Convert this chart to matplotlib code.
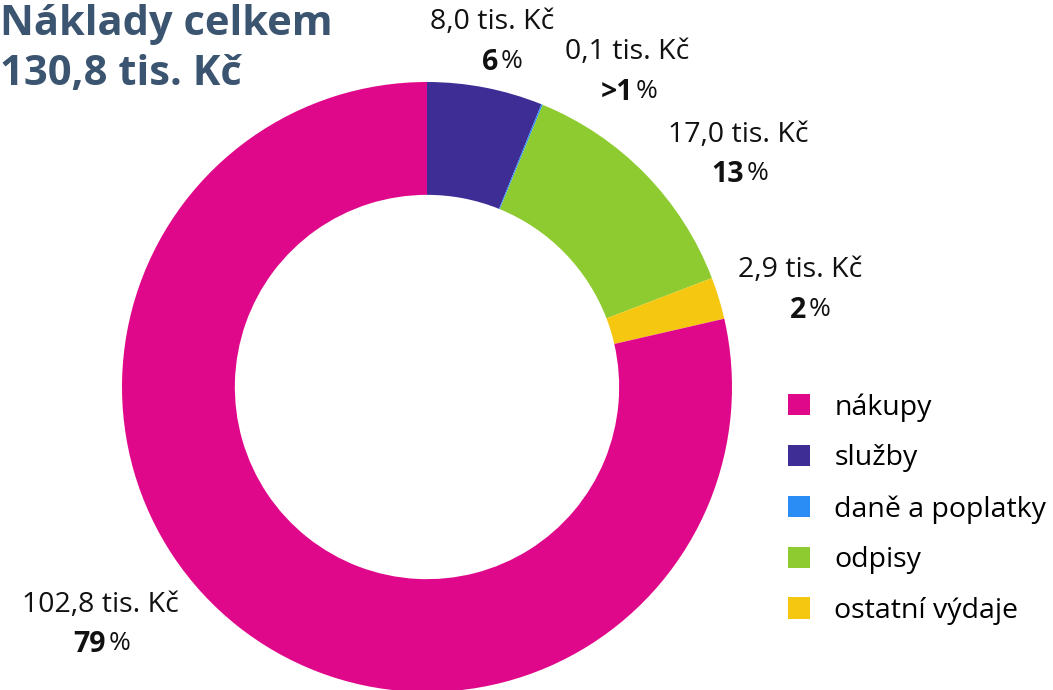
import matplotlib.pyplot as plt
from matplotlib.patches import Patch

plt.rcParams['font.family'] = ['Open Sans', 'DejaVu Sans']

# data
categories = ['nákupy', 'služby', 'daně a poplatky', 'odpisy', 'ostatní výdaje']
values = [102.8, 8.0, 0.1, 17.0, 2.9]      # tis. Kč
pct_labels = ['79', '6', '>1', '13', '2']
colors = ['#E0088A', '#3E2D95', '#2A8CF5', '#8DCB30', '#F5C711']
total_label = '130,8 tis. Kč'

# ring starts at top with služby and goes clockwise, nákupy last
order = [1, 2, 3, 4, 0]

W, H = 1053, 690
fig = plt.figure(figsize=(W / 100, H / 100), dpi=100)
ax = fig.add_axes([0, 0, 1, 1])

cx, cy, r = 427, H - 387, 305
ax.pie([values[i] for i in order], colors=[colors[i] for i in order],
       startangle=90, counterclock=False, center=(cx, cy), radius=r,
       wedgeprops=dict(width=r * 0.37, linewidth=0), frame=True)
ax.set_xlim(0, W)
ax.set_ylim(0, H)
ax.set_aspect('equal')
ax.axis('off')

# label positions (pixel, top-origin) for each category
label_pos = [(100, 605), (492, 22), (627, 52), (738, 135), (800, 270)]
for i, (x, y) in enumerate(label_pos):
    val = f"{values[i]:.1f}".replace('.', ',') + ' tis. Kč'
    ax.text(x, H - y, val, ha='center', va='center', fontsize=20.5, color='#111111')
    ax.text(x + 6, H - y - 40, pct_labels[i], ha='right', va='center',
            fontsize=20.5, fontweight='bold', color='#111111')
    ax.text(x + 9, H - y - 39, '%', ha='left', va='center', fontsize=19, color='#111111')

ax.text(0, H - 4, 'Náklady celkem\n' + total_label, ha='left', va='top',
        fontsize=30, fontweight='bold', color='#3B5470', linespacing=1.3)

handles = [Patch(facecolor=c, edgecolor='none') for c in colors]
ax.legend(handles, categories, loc='upper left', bbox_to_anchor=(788 / W, 1 - 393 / H),
          frameon=False, fontsize=20.5, handlelength=0.78, handleheight=0.78,
          handletextpad=0.85, labelspacing=0.8, borderaxespad=0, borderpad=0)

fig.savefig('out.png', dpi=100)
